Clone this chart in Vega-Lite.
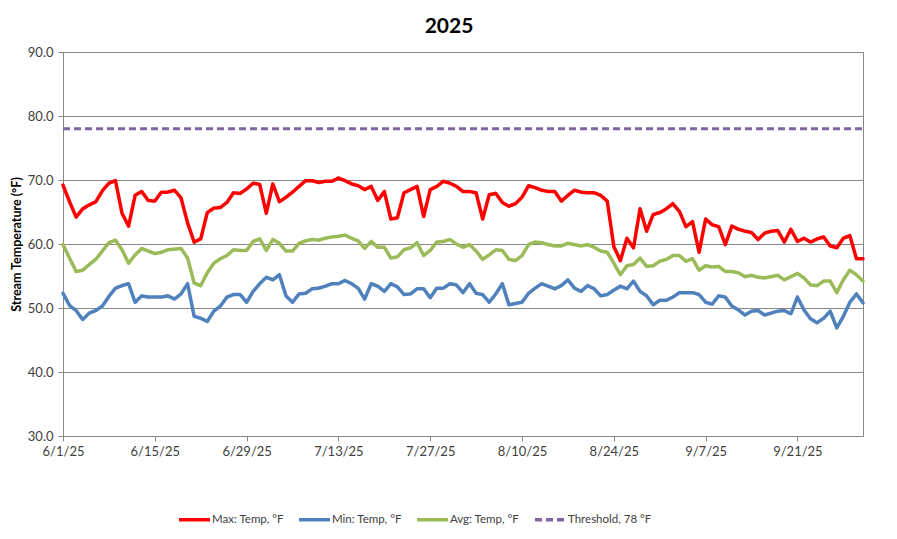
{
  "$schema": "https://vega.github.io/schema/vega-lite/v6.json",
  "width": 800,
  "height": 384,
  "autosize": {"type": "none"},
  "padding": {"left": 63, "top": 52, "right": 34, "bottom": 103},
  "background": "white",
  "config": {"font": "Lato", "view": {"stroke": "#878787", "strokeWidth": 1}},
  "title": {"text": "2025", "fontSize": 21, "fontWeight": "bold", "color": "black", "anchor": "middle", "dx": -14, "offset": 9, "font": "Lato"},
  "layer": [
    {
      "data": {"values": [
        {"d":"2025-06-01","Max":69.2,"Min":52.3,"Avg":59.9},
        {"d":"2025-06-02","Max":66.6,"Min":50.4,"Avg":57.8},
        {"d":"2025-06-03","Max":64.2,"Min":49.6,"Avg":55.7},
        {"d":"2025-06-04","Max":65.5,"Min":48.2,"Avg":55.9},
        {"d":"2025-06-05","Max":66.1,"Min":49.2,"Avg":56.8},
        {"d":"2025-06-06","Max":66.6,"Min":49.6,"Avg":57.6},
        {"d":"2025-06-07","Max":68.3,"Min":50.3,"Avg":58.9},
        {"d":"2025-06-08","Max":69.5,"Min":51.8,"Avg":60.2},
        {"d":"2025-06-09","Max":69.9,"Min":53.1,"Avg":60.6},
        {"d":"2025-06-10","Max":64.8,"Min":53.5,"Avg":59.1},
        {"d":"2025-06-11","Max":62.8,"Min":53.8,"Avg":57.0},
        {"d":"2025-06-12","Max":67.6,"Min":50.9,"Avg":58.3},
        {"d":"2025-06-13","Max":68.2,"Min":51.9,"Avg":59.3},
        {"d":"2025-06-14","Max":66.8,"Min":51.7,"Avg":58.9},
        {"d":"2025-06-15","Max":66.7,"Min":51.7,"Avg":58.5},
        {"d":"2025-06-16","Max":68.1,"Min":51.7,"Avg":58.7},
        {"d":"2025-06-17","Max":68.1,"Min":51.9,"Avg":59.1},
        {"d":"2025-06-18","Max":68.4,"Min":51.4,"Avg":59.2},
        {"d":"2025-06-19","Max":67.2,"Min":52.2,"Avg":59.3},
        {"d":"2025-06-20","Max":63.3,"Min":53.8,"Avg":57.8},
        {"d":"2025-06-21","Max":60.3,"Min":48.7,"Avg":53.9},
        {"d":"2025-06-22","Max":60.8,"Min":48.4,"Avg":53.5},
        {"d":"2025-06-23","Max":64.9,"Min":47.9,"Avg":55.5},
        {"d":"2025-06-24","Max":65.6,"Min":49.5,"Avg":57.0},
        {"d":"2025-06-25","Max":65.7,"Min":50.3,"Avg":57.7},
        {"d":"2025-06-26","Max":66.5,"Min":51.7,"Avg":58.2},
        {"d":"2025-06-27","Max":68.0,"Min":52.1,"Avg":59.1},
        {"d":"2025-06-28","Max":67.9,"Min":52.1,"Avg":59.0},
        {"d":"2025-06-29","Max":68.6,"Min":50.9,"Avg":59.0},
        {"d":"2025-06-30","Max":69.5,"Min":52.6,"Avg":60.4},
        {"d":"2025-07-01","Max":69.3,"Min":53.8,"Avg":60.8},
        {"d":"2025-07-02","Max":64.8,"Min":54.8,"Avg":59.0},
        {"d":"2025-07-03","Max":69.4,"Min":54.4,"Avg":60.7},
        {"d":"2025-07-04","Max":66.6,"Min":55.2,"Avg":60.1},
        {"d":"2025-07-05","Max":67.3,"Min":51.9,"Avg":58.9},
        {"d":"2025-07-06","Max":68.1,"Min":50.9,"Avg":58.9},
        {"d":"2025-07-07","Max":69.0,"Min":52.2,"Avg":60.1},
        {"d":"2025-07-08","Max":69.9,"Min":52.3,"Avg":60.5},
        {"d":"2025-07-09","Max":69.9,"Min":53.0,"Avg":60.7},
        {"d":"2025-07-10","Max":69.6,"Min":53.1,"Avg":60.6},
        {"d":"2025-07-11","Max":69.8,"Min":53.4,"Avg":60.9},
        {"d":"2025-07-12","Max":69.8,"Min":53.8,"Avg":61.1},
        {"d":"2025-07-13","Max":70.3,"Min":53.8,"Avg":61.2},
        {"d":"2025-07-14","Max":69.9,"Min":54.3,"Avg":61.4},
        {"d":"2025-07-15","Max":69.4,"Min":53.8,"Avg":60.9},
        {"d":"2025-07-16","Max":69.1,"Min":53.1,"Avg":60.5},
        {"d":"2025-07-17","Max":68.5,"Min":51.4,"Avg":59.3},
        {"d":"2025-07-18","Max":69.0,"Min":53.8,"Avg":60.4},
        {"d":"2025-07-19","Max":66.8,"Min":53.4,"Avg":59.5},
        {"d":"2025-07-20","Max":68.2,"Min":52.6,"Avg":59.5},
        {"d":"2025-07-21","Max":63.9,"Min":53.8,"Avg":57.8},
        {"d":"2025-07-22","Max":64.1,"Min":53.3,"Avg":58.0},
        {"d":"2025-07-23","Max":68.0,"Min":52.1,"Avg":59.1},
        {"d":"2025-07-24","Max":68.5,"Min":52.2,"Avg":59.4},
        {"d":"2025-07-25","Max":69.0,"Min":53.0,"Avg":60.2},
        {"d":"2025-07-26","Max":64.3,"Min":53.0,"Avg":58.2},
        {"d":"2025-07-27","Max":68.5,"Min":51.6,"Avg":59.0},
        {"d":"2025-07-28","Max":69.0,"Min":53.1,"Avg":60.3},
        {"d":"2025-07-29","Max":69.8,"Min":53.1,"Avg":60.4},
        {"d":"2025-07-30","Max":69.5,"Min":53.8,"Avg":60.7},
        {"d":"2025-07-31","Max":69.0,"Min":53.6,"Avg":60.0},
        {"d":"2025-08-01","Max":68.2,"Min":52.4,"Avg":59.5},
        {"d":"2025-08-02","Max":68.2,"Min":53.8,"Avg":59.9},
        {"d":"2025-08-03","Max":68.0,"Min":52.3,"Avg":58.9},
        {"d":"2025-08-04","Max":63.9,"Min":52.1,"Avg":57.6},
        {"d":"2025-08-05","Max":67.7,"Min":50.9,"Avg":58.3},
        {"d":"2025-08-06","Max":67.9,"Min":52.2,"Avg":59.1},
        {"d":"2025-08-07","Max":66.5,"Min":53.8,"Avg":59.0},
        {"d":"2025-08-08","Max":65.9,"Min":50.5,"Avg":57.6},
        {"d":"2025-08-09","Max":66.3,"Min":50.7,"Avg":57.4},
        {"d":"2025-08-10","Max":67.3,"Min":50.9,"Avg":58.2},
        {"d":"2025-08-11","Max":69.1,"Min":52.3,"Avg":59.9},
        {"d":"2025-08-12","Max":68.8,"Min":53.1,"Avg":60.3},
        {"d":"2025-08-13","Max":68.4,"Min":53.8,"Avg":60.2},
        {"d":"2025-08-14","Max":68.2,"Min":53.4,"Avg":59.9},
        {"d":"2025-08-15","Max":68.2,"Min":53.0,"Avg":59.7},
        {"d":"2025-08-16","Max":66.7,"Min":53.5,"Avg":59.7},
        {"d":"2025-08-17","Max":67.6,"Min":54.4,"Avg":60.1},
        {"d":"2025-08-18","Max":68.4,"Min":53.1,"Avg":59.9},
        {"d":"2025-08-19","Max":68.1,"Min":52.6,"Avg":59.7},
        {"d":"2025-08-20","Max":68.0,"Min":53.5,"Avg":59.9},
        {"d":"2025-08-21","Max":68.0,"Min":53.0,"Avg":59.5},
        {"d":"2025-08-22","Max":67.6,"Min":51.9,"Avg":58.9},
        {"d":"2025-08-23","Max":66.7,"Min":52.1,"Avg":58.7},
        {"d":"2025-08-24","Max":59.6,"Min":52.8,"Avg":57.0},
        {"d":"2025-08-25","Max":57.4,"Min":53.4,"Avg":55.2},
        {"d":"2025-08-26","Max":60.9,"Min":53.0,"Avg":56.6},
        {"d":"2025-08-27","Max":59.4,"Min":54.2,"Avg":56.8},
        {"d":"2025-08-28","Max":65.5,"Min":52.6,"Avg":57.8},
        {"d":"2025-08-29","Max":62.0,"Min":51.9,"Avg":56.5},
        {"d":"2025-08-30","Max":64.6,"Min":50.5,"Avg":56.6},
        {"d":"2025-08-31","Max":64.9,"Min":51.2,"Avg":57.3},
        {"d":"2025-09-01","Max":65.5,"Min":51.2,"Avg":57.6},
        {"d":"2025-09-02","Max":66.3,"Min":51.7,"Avg":58.2},
        {"d":"2025-09-03","Max":65.1,"Min":52.4,"Avg":58.2},
        {"d":"2025-09-04","Max":62.7,"Min":52.4,"Avg":57.3},
        {"d":"2025-09-05","Max":63.5,"Min":52.4,"Avg":57.7},
        {"d":"2025-09-06","Max":58.7,"Min":52.1,"Avg":55.9},
        {"d":"2025-09-07","Max":63.9,"Min":50.9,"Avg":56.6},
        {"d":"2025-09-08","Max":63.0,"Min":50.6,"Avg":56.4},
        {"d":"2025-09-09","Max":62.7,"Min":51.9,"Avg":56.5},
        {"d":"2025-09-10","Max":59.9,"Min":51.7,"Avg":55.7},
        {"d":"2025-09-11","Max":62.8,"Min":50.3,"Avg":55.7},
        {"d":"2025-09-12","Max":62.3,"Min":49.7,"Avg":55.5},
        {"d":"2025-09-13","Max":62.0,"Min":48.9,"Avg":54.9},
        {"d":"2025-09-14","Max":61.8,"Min":49.5,"Avg":55.1},
        {"d":"2025-09-15","Max":60.7,"Min":49.6,"Avg":54.8},
        {"d":"2025-09-16","Max":61.7,"Min":48.9,"Avg":54.7},
        {"d":"2025-09-17","Max":62.0,"Min":49.2,"Avg":54.9},
        {"d":"2025-09-18","Max":62.1,"Min":49.5,"Avg":55.1},
        {"d":"2025-09-19","Max":60.3,"Min":49.6,"Avg":54.4},
        {"d":"2025-09-20","Max":62.3,"Min":49.1,"Avg":54.9},
        {"d":"2025-09-21","Max":60.4,"Min":51.7,"Avg":55.4},
        {"d":"2025-09-22","Max":60.9,"Min":49.7,"Avg":54.7},
        {"d":"2025-09-23","Max":60.3,"Min":48.3,"Avg":53.6},
        {"d":"2025-09-24","Max":60.8,"Min":47.7,"Avg":53.5},
        {"d":"2025-09-25","Max":61.1,"Min":48.4,"Avg":54.2},
        {"d":"2025-09-26","Max":59.7,"Min":49.5,"Avg":54.2},
        {"d":"2025-09-27","Max":59.4,"Min":46.9,"Avg":52.4},
        {"d":"2025-09-28","Max":60.9,"Min":48.7,"Avg":54.4},
        {"d":"2025-09-29","Max":61.3,"Min":50.9,"Avg":55.9},
        {"d":"2025-09-30","Max":57.7,"Min":52.2,"Avg":55.2},
        {"d":"2025-10-01","Max":57.7,"Min":50.8,"Avg":54.2}
      ]},
      "transform": [{"fold": ["Max", "Min", "Avg"], "as": ["series", "temp"]}],
      "mark": {"type": "line", "strokeWidth": 3.5, "strokeJoin": "round", "strokeCap": "round"},
      "encoding": {
        "x": {"field": "d", "type": "temporal",
          "scale": {"type": "utc", "domain": [{"year": 2025, "month": 6, "date": 1, "utc": true}, {"year": 2025, "month": 10, "date": 1, "utc": true}], "nice": false},
          "axis": {"title": null, "grid": false, "tickSize": 5, "tickColor": "#878787", "domainColor": "#878787", "labelFontSize": 13, "labelColor": "#404040", "labelPadding": 4, "labelFlush": false, "labelOverlap": false,
            "values": [{"year": 2025, "month": 6, "date": 1, "utc": true}, {"year": 2025, "month": 6, "date": 15, "utc": true}, {"year": 2025, "month": 6, "date": 29, "utc": true}, {"year": 2025, "month": 7, "date": 13, "utc": true}, {"year": 2025, "month": 7, "date": 27, "utc": true}, {"year": 2025, "month": 8, "date": 10, "utc": true}, {"year": 2025, "month": 8, "date": 24, "utc": true}, {"year": 2025, "month": 9, "date": 7, "utc": true}, {"year": 2025, "month": 9, "date": 21, "utc": true}],
            "labelExpr": "utcFormat(datum.value, '%-m/%-d/%y')"}},
        "y": {"field": "temp", "type": "quantitative",
          "scale": {"domain": [30, 90], "nice": false, "zero": false},
          "axis": {"title": "Stream Temperature (°F)", "values": [30, 40, 50, 60, 70, 80, 90], "format": ".1f", "gridColor": "#878787", "tickSize": 5, "tickColor": "#878787", "domainColor": "#878787", "labelFontSize": 13, "labelColor": "#404040", "labelPadding": 5, "titleFontSize": 12.5, "titleFontWeight": "bold", "titleColor": "black", "titlePadding": 4}},
        "color": {"field": "series", "type": "nominal",
          "scale": {"domain": ["Max", "Min", "Avg", "Thr"], "range": ["#FF0000", "#4F81BD", "#9BBB59", "#8064A2"]},
          "legend": {"title": null, "orient": "none", "legendX": 114, "legendY": 450, "direction": "horizontal", "symbolType": "stroke", "symbolSize": 961, "symbolStrokeWidth": 3.5, "labelFontSize": 11.5, "labelColor": "#404040", "labelOffset": 0, "columnPadding": 8,
            "labelExpr": "{'Max': 'Max: Temp, °F', 'Min': 'Min: Temp, °F', 'Avg': 'Avg: Temp, °F', 'Thr': 'Threshold, 78 °F'}[datum.label]"}},
        "strokeDash": {"field": "series", "type": "nominal",
          "scale": {"domain": ["Max", "Min", "Avg", "Thr"], "range": [[1, 0], [1, 0], [1, 0], [7, 4]]},
          "legend": {"title": null, "orient": "none", "legendX": 114, "legendY": 450, "direction": "horizontal", "symbolType": "stroke", "symbolSize": 961, "symbolStrokeWidth": 3.5, "labelFontSize": 11.5, "labelColor": "#404040", "labelOffset": 0, "columnPadding": 8,
            "labelExpr": "{'Max': 'Max: Temp, °F', 'Min': 'Min: Temp, °F', 'Avg': 'Avg: Temp, °F', 'Thr': 'Threshold, 78 °F'}[datum.label]"}}
      }
    },
    {
      "data": {"values": [
        {"d": "2025-06-01", "series": "Thr", "temp": 78},
        {"d": "2025-10-01", "series": "Thr", "temp": 78}
      ]},
      "mark": {"type": "line", "strokeWidth": 3},
      "encoding": {
        "x": {"field": "d", "type": "temporal"},
        "y": {"field": "temp", "type": "quantitative"},
        "color": {"field": "series", "type": "nominal"},
        "strokeDash": {"field": "series", "type": "nominal"}
      }
    }
  ]
}
